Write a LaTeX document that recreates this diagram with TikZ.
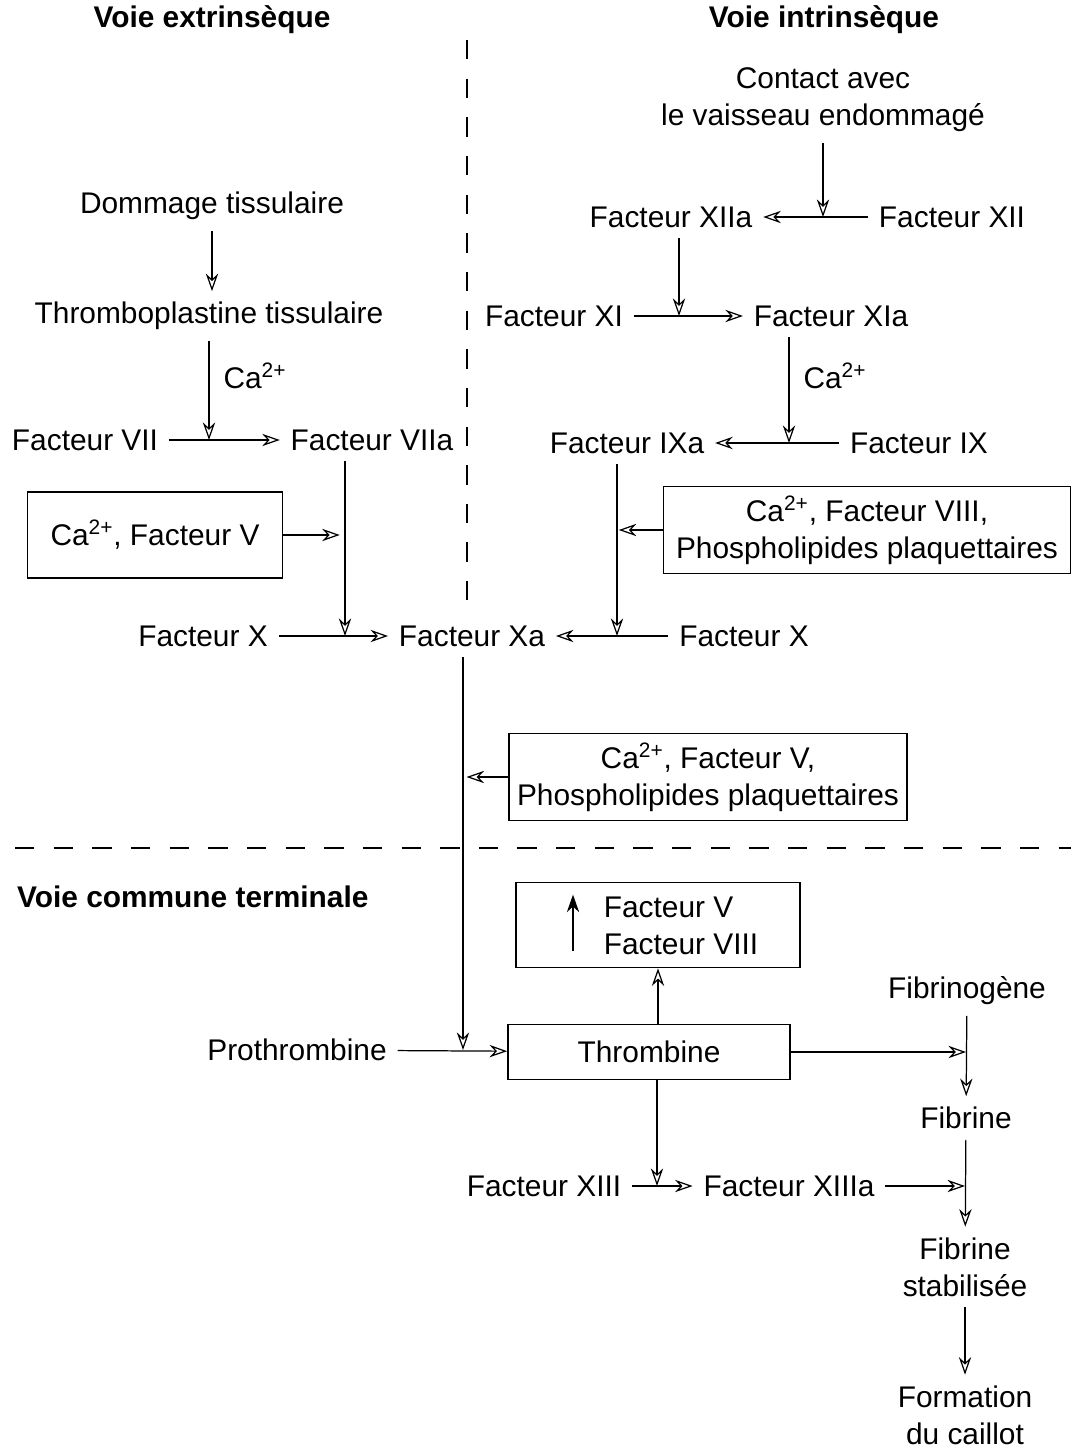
\documentclass[tikz,border=0pt]{standalone}
\usepackage{fontspec}
\setmainfont{Liberation Sans}
\usetikzlibrary{arrows.meta}

\begin{document}
\begin{tikzpicture}[x=0.02cm, y=-0.02cm,
    facteur/.style ={inner sep=6pt, align=center, font=\fontsize{17}{21}\selectfont},
    titre/.style ={inner sep=1pt, font=\fontsize{17}{21}\selectfont\bfseries},
    boite/.style ={draw, line width=1pt, align=center, font=\fontsize{17}{21}\selectfont},
    fleche/.style ={line width=0.7pt, -{Stealth[open, length=10pt, width=7pt]}},
    separation/.style ={line width=1.1pt, dash pattern=on 11pt off 11pt}]
   \useasboundingbox (0,0) rectangle (1071,1452);

   % titres et separations
   \node[titre] (Text) at (212,20) {Voie extrinsèque};
   \node[titre] (Tint) at (824,20) {Voie intrinsèque};
   \node[titre, anchor=west] (Tcom) at (15,897) {Voie commune terminale};
   \coordinate (S1) at (467,40);
   \coordinate (S2) at (467,600);
   \coordinate (S3) at (15,848);
   \coordinate (S4) at (1071,848);
   \draw[separation] (S1) to (S2);
   \draw[separation] (S3) to (S4);

   % voie extrinseque
   \node[facteur] (Dom) at (212,206) {Dommage tissulaire};
   \node[facteur] (Thp) at (209,316) {Thromboplastine tissulaire};
   \node[facteur] (VII) at (85,440) {Facteur VII};
   \node[facteur] (VIIa) at (372,440) {Facteur VIIa};
   \node[facteur] (CaE) at (255,376) {Ca\textsuperscript{2+}};
   \node[boite, minimum width=5.1cm, minimum height=1.72cm] (CaV) at (155,535) {Ca\textsuperscript{2+}, Facteur V};
   \coordinate (cVII) at (Thp |- VII);
   \coordinate (cX1) at (345,636);

   % voie intrinseque
   \node[facteur] (Cont) at (823,100) {Contact avec\\le vaisseau endommagé};
   \node[facteur] (XIIa) at (671,217) {Facteur XIIa};
   \node[facteur] (XII) at (952,217) {Facteur XII};
   \node[facteur] (XI) at (554,316) {Facteur XI};
   \node[facteur] (XIa) at (831,316) {Facteur XIa};
   \node[facteur] (CaI) at (835,376) {Ca\textsuperscript{2+}};
   \node[facteur] (IXa) at (627,443) {Facteur IXa};
   \node[facteur] (IX) at (919,443) {Facteur IX};
   \node[boite, minimum width=8.14cm, minimum height=1.74cm] (CaVIII) at (867,530) {Ca\textsuperscript{2+}, Facteur VIII,\\Phospholipides plaquettaires};
   \coordinate (cXII) at (Cont |- XII);
   \coordinate (cXI) at (679,316);
   \coordinate (cIX) at (789,443);
   \coordinate (cX2) at (617,636);

   % facteur X
   \node[facteur] (X1) at (203,636) {Facteur X};
   \node[facteur] (Xa) at (472,636) {Facteur Xa};
   \node[facteur] (X2) at (744,636) {Facteur X};
   \node[boite, minimum width=7.96cm, minimum height=1.74cm] (CaVP) at (708,777) {Ca\textsuperscript{2+}, Facteur V,\\Phospholipides plaquettaires};
   \coordinate (cPro) at (463,1050);

   % voie commune
   \node[boite, minimum width=5.68cm, minimum height=1.7cm] (Vbox) at (658,925) {};
   \node[facteur, align=left, inner sep=1pt] (Vtxt) at (681,926) {Facteur V\\Facteur VIII};
   \node[boite, minimum width=5.64cm, minimum height=1.1cm] (Thr) at (649,1052) {Thrombine};
   \node[facteur] (Pro) at (297,1050) {Prothrombine};
   \node[facteur] (Fbg) at (967,991) {Fibrinogène};
   \node[facteur] (Fib) at (966,1118) {Fibrine};
   \node[facteur] (XIII) at (544,1186) {Facteur XIII};
   \node[facteur] (XIIIa) at (789,1186) {Facteur XIIIa};
   \node[facteur] (Stab) at (965,1267) {Fibrine\\stabilisée};
   \node[facteur] (Cail) at (965,1415) {Formation\\du caillot};
   \coordinate (cFib) at (Fib |- Thr);
   \coordinate (cXIII) at (657,1186);
   \coordinate (cStab) at (965,1186);

   \draw[fleche] (Dom) to (Dom |- Thp.north);
   \draw[fleche] (Thp) to (cVII);
   \draw[fleche] (VII) to (VIIa);
   \draw[fleche] (VIIa.south -| cX1) to (cX1);
   \draw[fleche, shorten >=3pt] (CaV) to (CaV -| cX1);
   \draw[fleche] (Cont) to (cXII);
   \draw[fleche] (XII) to (XIIa);
   \draw[fleche] (XIIa.south -| cXI) to (cXI);
   \draw[fleche] (XI) to (XIa);
   \draw[fleche] (XIa.south -| cIX) to (cIX);
   \draw[fleche] (IX) to (IXa);
   \draw[fleche] (IXa.south -| cX2) to (cX2);
   \draw[fleche, shorten >=1pt] (CaVIII) to (CaVIII -| cX2);
   \draw[fleche] (X1) to (Xa);
   \draw[fleche] (X2) to (Xa);
   \draw[fleche] (Xa.south -| cPro) to (cPro);
   \draw[fleche, shorten >=2pt] (CaVP) to (CaVP -| cPro);
   \draw[fleche] (Pro) to (Thr);
   \draw[fleche] (Thr.north -| Vbox) to (Vbox.south);
   \draw[line width=0.9pt, -{Stealth[length=10pt, width=7pt]}] ([shift={(-85,-17)}]Vbox.south) to ([shift={(-85,13)}]Vbox.north);
   \draw[fleche] (Thr) to (cFib);
   \draw[fleche] (Fbg) to (Fib);
   \draw[fleche] (Thr.south -| cXIII) to (cXIII);
   \draw[fleche] (XIII) to (XIIIa);
   \draw[fleche] (XIIIa) to (cStab);
   \draw[fleche] (Fib) to (Stab);
   \draw[fleche] (Stab) to (Cail);
 \end{tikzpicture}
\end{document}
